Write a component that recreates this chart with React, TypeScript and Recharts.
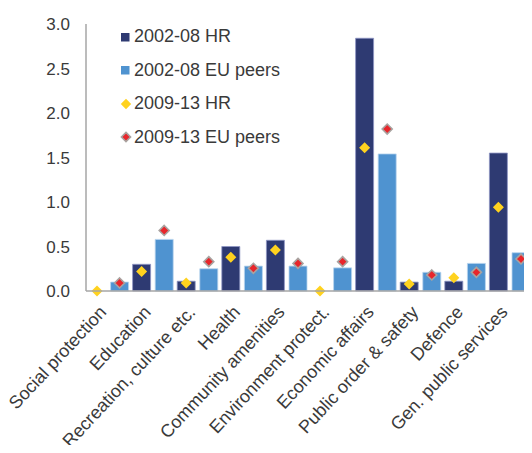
import { Bar, ComposedChart, XAxis, YAxis } from "recharts";

const categories = [
  "Social protection",
  "Education",
  "Recreation, culture etc.",
  "Health",
  "Community amenities",
  "Environment protect.",
  "Economic affairs",
  "Public order & safety",
  "Defence",
  "Gen. public services",
];
const hr0208 = [0, 0.3, 0.11, 0.5, 0.57, 0, 2.84, 0.1, 0.11, 1.55];
const eu0208 = [0.1, 0.58, 0.25, 0.28, 0.28, 0.26, 1.54, 0.21, 0.31, 0.43];
const hr0913 = [0, 0.22, 0.09, 0.38, 0.46, 0, 1.61, 0.08, 0.15, 0.94];
const eu0913 = [0.09, 0.68, 0.33, 0.255, 0.31, 0.33, 1.82, 0.18, 0.21, 0.36];
const yTicks = [0, 0.5, 1, 1.5, 2, 2.5, 3];

const NAVY = "#2e3a72";
const BLUE = "#4f93d0";
const YELLOW = "#ffd21f";
const RED = "#e8262b";
const FONT = "'Liberation Sans', Arial, sans-serif";
const TEXT = "#3a3a3a";
const AXIS = "#a6a6a6";

const data = categories.map((name, i) => ({
  name,
  hr0208: hr0208[i],
  eu0208: eu0208[i],
  hr0913: hr0913[i],
  eu0913: eu0913[i],
}));

const legendItems = [
  { label: "2002-08 HR", kind: "square", color: NAVY },
  { label: "2002-08 EU peers", kind: "square", color: BLUE },
  { label: "2009-13 HR", kind: "diamond", color: YELLOW },
  { label: "2009-13 EU peers", kind: "diamond", color: RED },
];

function diamondPoints(cx: number, cy: number, r: number) {
  return `${cx},${cy - r} ${cx + r},${cy} ${cx},${cy + r} ${cx - r},${cy}`;
}

function Diamond(props: any) {
  const { x, y, width, fill, stroke } = props;
  const cx = x + width / 2;
  return (
    <polygon
      points={diamondPoints(cx, y, stroke ? 5 : 5.5)}
      fill={fill}
      stroke={stroke ?? "none"}
      strokeWidth={stroke ? 1.6 : 0}
    />
  );
}

function XTick(props: any) {
  const { x, y, payload } = props;
  return (
    <g transform={`translate(${x - 1},${y + 22})`}>
      <text
        x={0}
        y={0}
        textAnchor="end"
        transform="rotate(-47)"
        fill={TEXT}
        fontSize={18}
        fontFamily={FONT}
      >
        {payload.value}
      </text>
    </g>
  );
}

function LegendBox() {
  return (
    <div
      style={{
        position: "absolute",
        left: 120,
        top: 20,
        fontFamily: FONT,
        fontSize: 18,
        color: TEXT,
      }}
    >
      {legendItems.map((it) => (
        <div
          key={it.label}
          style={{ display: "flex", alignItems: "center", height: 33.5 }}
        >
          <svg width={13} height={12} style={{ marginRight: 1 }}>
            {it.kind === "square" ? (
              <rect x={1} y={2} width={8.5} height={8.5} fill={it.color} />
            ) : (
              <polygon
                points={diamondPoints(6, 6, it.color === RED ? 4.6 : 5.2)}
                fill={it.color}
                stroke={it.color === RED ? "#a9a3a0" : "none"}
                strokeWidth={1.5}
              />
            )}
          </svg>
          <span>{it.label}</span>
        </div>
      ))}
    </div>
  );
}

export default function App() {
  return (
    <div style={{ margin: -8, position: "relative", width: 532, height: 453 }}>
      <ComposedChart
        width={532}
        height={453}
        data={data}
        margin={{ top: 24, right: 0, left: 0, bottom: 0 }}
        barGap={4.6}
        barCategoryGap={2}
      >
        <XAxis
          dataKey="name"
          xAxisId="main"
          interval={0}
          height={162}
          tickSize={0}
          tickMargin={0}
          tick={<XTick />}
          axisLine={{ stroke: AXIS, strokeWidth: 1.5 }}
        />
        <XAxis dataKey="name" xAxisId="pts" hide />
        <YAxis
          domain={[0, 3]}
          ticks={yTicks}
          width={86}
          tickSize={0}
          tickMargin={16}
          tickFormatter={(v: number) => v.toFixed(1)}
          tick={{ fill: TEXT, fontSize: 17, fontFamily: FONT }}
          axisLine={{ stroke: AXIS, strokeWidth: 1.5 }}
        />
        <Bar
          xAxisId="main"
          dataKey="hr0208"
          name="2002-08 HR"
          fill={NAVY}
          stroke="#8e95c4"
          strokeWidth={0.8}
          barSize={18}
          isAnimationActive={false}
        />
        <Bar
          xAxisId="main"
          dataKey="eu0208"
          name="2002-08 EU peers"
          fill={BLUE}
          stroke="#b9d4ee"
          strokeWidth={0.8}
          barSize={18}
          isAnimationActive={false}
        />
        <Bar
          xAxisId="pts"
          dataKey="hr0913"
          name="2009-13 HR"
          fill={YELLOW}
          barSize={18}
          shape={(p: any) => <Diamond {...p} fill={YELLOW} />}
          isAnimationActive={false}
        />
        <Bar
          xAxisId="pts"
          dataKey="eu0913"
          name="2009-13 EU peers"
          fill={RED}
          barSize={18}
          shape={(p: any) => <Diamond {...p} fill={RED} stroke="#a9a3a0" />}
          isAnimationActive={false}
        />
      </ComposedChart>
      <LegendBox />
    </div>
  );
}
